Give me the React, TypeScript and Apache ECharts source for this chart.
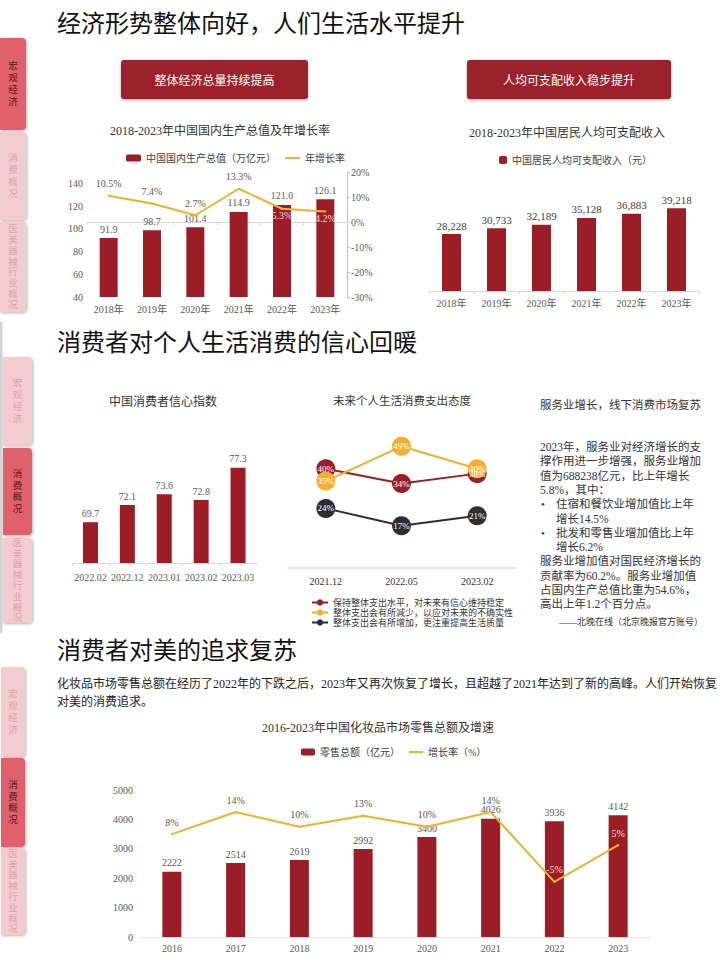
import React, { useEffect, useRef } from "react";
import * as echarts from "echarts";

const SERIF = "'Liberation Serif', 'Noto Sans CJK SC', serif";
const SANS = "'Noto Sans CJK SC', 'Noto Sans', sans-serif";
const RED = "#9b1e27";
const ORANGE = "#f3b12b";
const DARK = "#2e2e2e";
const AXIS_TEXT = "#595959";
const LIGHT_LABEL = "#f6d6d6";
const TAB_ACTIVE = "#e0606c";
const TAB_LIGHT = "#f4cbcf";

// ---- data ----
const gdpYears = ["2018年", "2019年", "2020年", "2021年", "2022年", "2023年"];
const gdpValues = [91.9, 98.7, 101.4, 114.9, 121.0, 126.1];
const gdpGrowth = [10.5, 7.4, 2.7, 13.3, 5.3, 4.2];

const incomeYears = ["2018年", "2019年", "2020年", "2021年", "2022年", "2023年"];
const incomeValues = [28228, 30733, 32189, 35128, 36883, 39218];

const confMonths = ["2022.02", "2022.12", "2023.01", "2023.02", "2023.03"];
const confValues = [69.7, 72.1, 73.6, 72.8, 77.3];

const attitudeDates = ["2021.12", "2022.05", "2023.02"];
const attitudeKeep = [40, 34, 38];
const attitudeReduce = [35, 49, 40];
const attitudeIncrease = [24, 17, 21];

const cosmeticYears = ["2016", "2017", "2018", "2019", "2020", "2021", "2022", "2023"];
const cosmeticSales = [2222, 2514, 2619, 2992, 3400, 4026, 3936, 4142];
const cosmeticGrowth = [8, 14, 10, 13, 10, 14, -5, 5];

const GDP_BAR = "中国国内生产总值（万亿元）";
const GDP_LINE = "年增长率";
const INCOME_BAR = "中国居民人均可支配收入（元）";
const CONF_BAR = "中国消费者信心指数";
const ATT_KEEP = "保持整体支出水平，对未来有信心维持稳定";
const ATT_REDUCE = "整体支出会有所减少，以应对未来的不确实性";
const ATT_INCREASE = "整体支出会有所增加，更注重提高生活质量";
const COS_BAR = "零售总额（亿元）";
const COS_LINE = "增长率（%）";

const serviceLines = [
  { t: "2023年，服务业对经济增长的支", bullet: false },
  { t: "撑作用进一步增强，服务业增加", bullet: false },
  { t: "值为688238亿元，比上年增长", bullet: false },
  { t: "5.8%，其中：", bullet: false },
  { t: "住宿和餐饮业增加值比上年", bullet: true },
  { t: "增长14.5%", bullet: false, indent: true },
  { t: "批发和零售业增加值比上年", bullet: true },
  { t: "增长6.2%", bullet: false, indent: true },
  { t: "服务业增加值对国民经济增长的", bullet: false },
  { t: "贡献率为60.2%。服务业增加值", bullet: false },
  { t: "占国内生产总值比重为54.6%，", bullet: false },
  { t: "高出上年1.2个百分点。", bullet: false },
];

function txt(x: number, y: number, text: string, opts: any = {}) {
  const align = opts.align || "left";
  return {
    type: "text",
    x,
    y,
    z: opts.z || 5,
    style: {
      text,
      fill: opts.fill || "#333",
      fontSize: opts.fontSize || 12,
      fontFamily: opts.fontFamily || SERIF,
      fontWeight: opts.fontWeight || "normal",
      lineHeight: opts.lineHeight,
      align,
      verticalAlign: "middle",
      textAlign: align,
      textVerticalAlign: "middle",
    },
  };
}

function tab(x: number, y0: number, y1: number, w: number, label: string, active: boolean) {
  return [
    {
      type: "rect",
      z: 2,
      shape: { x, y: y0, width: w, height: y1 - y0, r: [0, 4, 4, 0] },
      style: {
        fill: active ? TAB_ACTIVE : TAB_LIGHT,
        shadowBlur: 3,
        shadowOffsetX: 1,
        shadowOffsetY: 1,
        shadowColor: "rgba(0,0,0,0.3)",
      },
    },
    txt(x + w / 2, (y0 + y1) / 2, label.split("").join("\n"), {
      align: "center",
      fill: active ? "#5a1616" : "#d9a3aa",
      fontSize: 9.5,
      lineHeight: label.length > 4 ? 10.8 : 11.8,
      z: 3,
    }),
  ];
}

function button(x: number, y: number, w: number, h: number, label: string) {
  return [
    {
      type: "rect",
      z: 2,
      shape: { x, y, width: w, height: h, r: 3 },
      style: {
        fill: "#9b2129",
        shadowBlur: 3,
        shadowOffsetY: 1,
        shadowColor: "rgba(0,0,0,0.35)",
      },
    },
    txt(x + w / 2, y + h / 2, label, { align: "center", fill: "#ffffff", fontSize: 12, fontFamily: SANS, z: 3 }),
  ];
}

const catAxis = (gridIndex: number, data: string[], extra: any = {}) => ({
  type: "category",
  gridIndex,
  data,
  axisLine: { show: true, lineStyle: { color: "#d9d9d9", width: 1 } },
  axisTick: { show: false },
  axisLabel: { color: AXIS_TEXT, fontSize: 10, fontFamily: SERIF, margin: 7, interval: 0 },
  ...extra,
});

const labelStyle = { color: AXIS_TEXT, fontSize: 10, fontFamily: SERIF };

function buildOption(): any {
  const graphics: any[] = [];
  // sidebars
  graphics.push(...tab(0, 38, 130, 26, "宏观经济", true));
  graphics.push(...tab(0, 132, 220, 26, "消费概况", false));
  graphics.push(...tab(0, 222, 312, 26, "医美器械行业概况", false));
  graphics.push({ type: "rect", z: 1, shape: { x: 0, y: 322, width: 2.5, height: 311 }, style: { fill: "#d3d3d3" } });
  graphics.push(...tab(3, 357, 445, 29, "宏观经济", false));
  graphics.push(...tab(3, 448, 535, 29, "消费概况", true));
  graphics.push(...tab(3, 538, 623, 29, "医美器械行业概况", false));
  graphics.push(...tab(1, 667, 757, 24, "宏观经济", false));
  graphics.push(...tab(1, 758, 847, 24, "消费概况", true));
  graphics.push(...tab(1, 848, 935, 24, "医美器械行业概况", false));

  // headings
  graphics.push(txt(57, 21, "经济形势整体向好，人们生活水平提升", { fontSize: 24, fontFamily: SANS, fill: "#111" }));
  graphics.push(txt(57, 340, "消费者对个人生活消费的信心回暖", { fontSize: 24, fontFamily: SANS, fill: "#111" }));
  graphics.push(txt(57, 648, "消费者对美的追求复苏", { fontSize: 24, fontFamily: SANS, fill: "#111" }));

  // buttons
  graphics.push(...button(121, 60, 187, 39, "整体经济总量持续提高"));
  graphics.push(...button(467, 60, 204, 39, "人均可支配收入稳步提升"));

  // chart titles
  graphics.push(txt(220, 131, "2018-2023年中国国内生产总值及年增长率", { align: "center", fontSize: 12 }));
  graphics.push(txt(567, 133, "2018-2023年中国居民人均可支配收入", { align: "center", fontSize: 12 }));
  graphics.push(txt(163, 402, "中国消费者信心指数", { align: "center", fontSize: 12 }));
  graphics.push(txt(402, 401, "未来个人生活消费支出态度", { align: "center", fontSize: 11.5 }));
  graphics.push(txt(378, 728, "2016-2023年中国化妆品市场零售总额及增速", { align: "center", fontSize: 12 }));

  // right text block
  graphics.push(txt(540, 405, "服务业增长，线下消费市场复苏", { fontSize: 11.5 }));
  serviceLines.forEach((l, i) => {
    const y = 447 + i * 14.3;
    if (l.bullet) {
      graphics.push(txt(541, y, "•", { fontSize: 11 }));
      graphics.push(txt(556, y, l.t, { fontSize: 11.5 }));
    } else {
      graphics.push(txt((l as any).indent ? 556 : 540, y, l.t, { fontSize: 11.5 }));
    }
  });
  graphics.push(txt(703, 622, "——北晚在线（北京晚报官方账号）", { align: "right", fontSize: 9 }));

  // paragraph
  graphics.push(
    txt(57, 684, "化妆品市场零售总额在经历了2022年的下跌之后，2023年又再次恢复了增长，且超越了2021年达到了新的高峰。人们开始恢复", {
      fontSize: 12,
      fill: "#222",
    })
  );
  graphics.push(txt(57, 702, "对美的消费追求。", { fontSize: 12, fill: "#222" }));

  return {
    animation: false,
    backgroundColor: "#ffffff",
    textStyle: { fontFamily: SERIF },
    graphic: { elements: graphics },
    grid: [
      { left: 87, top: 172, width: 260, height: 125 },
      { left: 429, top: 183, width: 270, height: 108 },
      { left: 72, top: 448.5, width: 184.5, height: 114.5 },
      { left: 288, top: 419, width: 227, height: 149 },
      { left: 140, top: 790, width: 510, height: 147 },
    ],
    legend: [
      {
        data: [GDP_BAR, { name: GDP_LINE, itemStyle: { opacity: 0 } }],
        left: 121,
        top: 148,
        itemWidth: 15,
        itemHeight: 7,
        itemGap: 8,
        selectedMode: false,
        textStyle: { fontSize: 10, color: "#404040", fontFamily: SERIF },
      },
      {
        data: [INCOME_BAR],
        left: 494,
        top: 150,
        itemWidth: 8,
        itemHeight: 8,
        itemGap: 8,
        selectedMode: false,
        textStyle: { fontSize: 10, color: "#404040", fontFamily: SERIF },
      },
      {
        data: [ATT_KEEP, ATT_REDUCE, ATT_INCREASE],
        orient: "vertical",
        left: 306,
        top: 593,
        itemWidth: 16,
        itemHeight: 8,
        itemGap: 1,
        selectedMode: false,
        textStyle: { fontSize: 9, color: "#333", fontFamily: SERIF },
      },
      {
        data: [COS_BAR, { name: COS_LINE, itemStyle: { opacity: 0 } }],
        left: 296,
        top: 742,
        itemWidth: 14,
        itemHeight: 7,
        itemGap: 8,
        selectedMode: false,
        textStyle: { fontSize: 10, color: "#404040", fontFamily: SERIF },
      },
    ],
    xAxis: [
      catAxis(0, gdpYears, { axisTick: { show: true, length: 3, lineStyle: { color: "#d9d9d9" } } }),
      catAxis(1, incomeYears, { axisTick: { show: true, length: 3, lineStyle: { color: "#d9d9d9" } } }),
      catAxis(2, confMonths, {
        axisTick: { show: true, length: 3, lineStyle: { color: "#d9d9d9" } },
        axisLabel: { color: AXIS_TEXT, fontSize: 10, fontFamily: SERIF, margin: 9, interval: 0 },
      }),
      catAxis(3, attitudeDates, {
        axisLine: { show: true, lineStyle: { color: "#e6e6e6", width: 2 } },
        axisLabel: { color: "#333", fontSize: 10, fontFamily: SERIF, margin: 8, interval: 0 },
      }),
      catAxis(4, cosmeticYears, {
        axisLine: { show: true, lineStyle: { color: "#e3e3e3", width: 1 } },
        axisLabel: { color: AXIS_TEXT, fontSize: 10, fontFamily: SERIF, margin: 6, interval: 0 },
      }),
    ],
    yAxis: [
      {
        type: "value",
        gridIndex: 0,
        min: 40,
        max: 150,
        interval: 20,
        axisLine: { show: false },
        axisTick: { show: false },
        splitLine: { show: false },
        axisLabel: { ...labelStyle, margin: 4, showMaxLabel: false, formatter: (v: number) => String(v) },
      },
      {
        type: "value",
        gridIndex: 0,
        position: "right",
        min: -30,
        max: 20,
        interval: 10,
        axisLine: { show: true, lineStyle: { color: "#bfbfbf" } },
        axisTick: { show: true, length: 3, lineStyle: { color: "#bfbfbf" } },
        splitLine: { show: false },
        axisLabel: { ...labelStyle, margin: 4, formatter: (v: number) => v + "%" },
      },
      { type: "value", gridIndex: 1, min: 4000, max: 50000, show: false, splitLine: { show: false } },
      { type: "value", gridIndex: 2, min: 64, max: 80, show: false, splitLine: { show: false } },
      { type: "value", gridIndex: 3, min: 0, max: 60, show: false, splitLine: { show: false } },
      {
        type: "value",
        gridIndex: 4,
        min: 0,
        max: 5000,
        interval: 1000,
        axisLine: { show: false },
        axisTick: { show: false },
        splitLine: { show: false },
        axisLabel: { ...labelStyle, margin: 7, formatter: (v: number) => String(v) },
      },
      { type: "value", gridIndex: 4, min: -20, max: 20, show: false, splitLine: { show: false } },
    ],
    series: [
      {
        name: GDP_BAR,
        type: "bar",
        xAxisIndex: 0,
        yAxisIndex: 0,
        data: gdpValues,
        barWidth: 18,
        itemStyle: { color: RED },
        label: { show: true, position: "top", distance: 4, ...labelStyle, formatter: (p: any) => Number(p.value).toFixed(1) },
      },
      {
        name: GDP_LINE,
        type: "line",
        xAxisIndex: 0,
        yAxisIndex: 1,
        data: gdpGrowth.map((v, i) =>
          i >= 4 ? { value: v, label: { position: "bottom", distance: 1, color: LIGHT_LABEL } } : v
        ),
        symbol: "circle",
        symbolSize: 2,
        z: 3,
        lineStyle: { color: ORANGE, width: 2 },
        itemStyle: { color: ORANGE },
        label: { show: true, position: "top", distance: 6, ...labelStyle, formatter: (p: any) => Number(p.value).toFixed(1) + "%" },
      },
      {
        name: INCOME_BAR,
        type: "bar",
        xAxisIndex: 1,
        yAxisIndex: 2,
        data: incomeValues,
        barWidth: 19,
        itemStyle: { color: RED },
        label: {
          show: true,
          position: "top",
          distance: 3,
          color: "#404040",
          fontSize: 11,
          fontFamily: SERIF,
          formatter: (p: any) => Number(p.value).toLocaleString("en-US"),
        },
      },
      {
        name: CONF_BAR,
        type: "bar",
        xAxisIndex: 2,
        yAxisIndex: 3,
        data: confValues,
        barWidth: 15,
        itemStyle: { color: RED },
        label: { show: true, position: "top", distance: 4, ...labelStyle, formatter: (p: any) => Number(p.value).toFixed(1) },
      },
      ...[
        { name: ATT_KEEP, data: attitudeKeep, color: RED },
        { name: ATT_REDUCE, data: attitudeReduce, color: ORANGE },
        { name: ATT_INCREASE, data: attitudeIncrease, color: DARK },
      ].map((s) => ({
        name: s.name,
        type: "line",
        xAxisIndex: 3,
        yAxisIndex: 4,
        data: s.data,
        symbol: "circle",
        symbolSize: 19,
        lineStyle: { color: s.color, width: 2 },
        itemStyle: { color: s.color },
        label: { show: true, position: "inside", color: "#ffffff", fontSize: 9, fontFamily: SERIF, formatter: "{c}%" },
      })),
      {
        name: COS_BAR,
        type: "bar",
        xAxisIndex: 4,
        yAxisIndex: 5,
        data: cosmeticSales,
        barWidth: 19,
        itemStyle: { color: RED },
        label: { show: true, position: "top", distance: 4, ...labelStyle, formatter: (p: any) => String(p.value) },
      },
      {
        name: COS_LINE,
        type: "line",
        xAxisIndex: 4,
        yAxisIndex: 6,
        data: cosmeticGrowth.map((v, i) => (i >= 6 ? { value: v, label: { color: LIGHT_LABEL } } : v)),
        symbol: "circle",
        symbolSize: 2,
        z: 3,
        lineStyle: { color: ORANGE, width: 2 },
        itemStyle: { color: ORANGE },
        label: { show: true, position: "top", distance: 6, ...labelStyle, formatter: (p: any) => p.value + "%" },
      },
    ],
  };
}

export default function App() {
  const ref = useRef<HTMLDivElement>(null);
  useEffect(() => {
    if (!ref.current) return;
    const chart = echarts.init(ref.current, null, { renderer: "svg" });
    chart.setOption(buildOption());
    return () => chart.dispose();
  }, []);
  return (
    <div
      ref={ref}
      style={{ position: "absolute", left: 0, top: 0, width: 720, height: 960, background: "#ffffff" }}
    />
  );
}
